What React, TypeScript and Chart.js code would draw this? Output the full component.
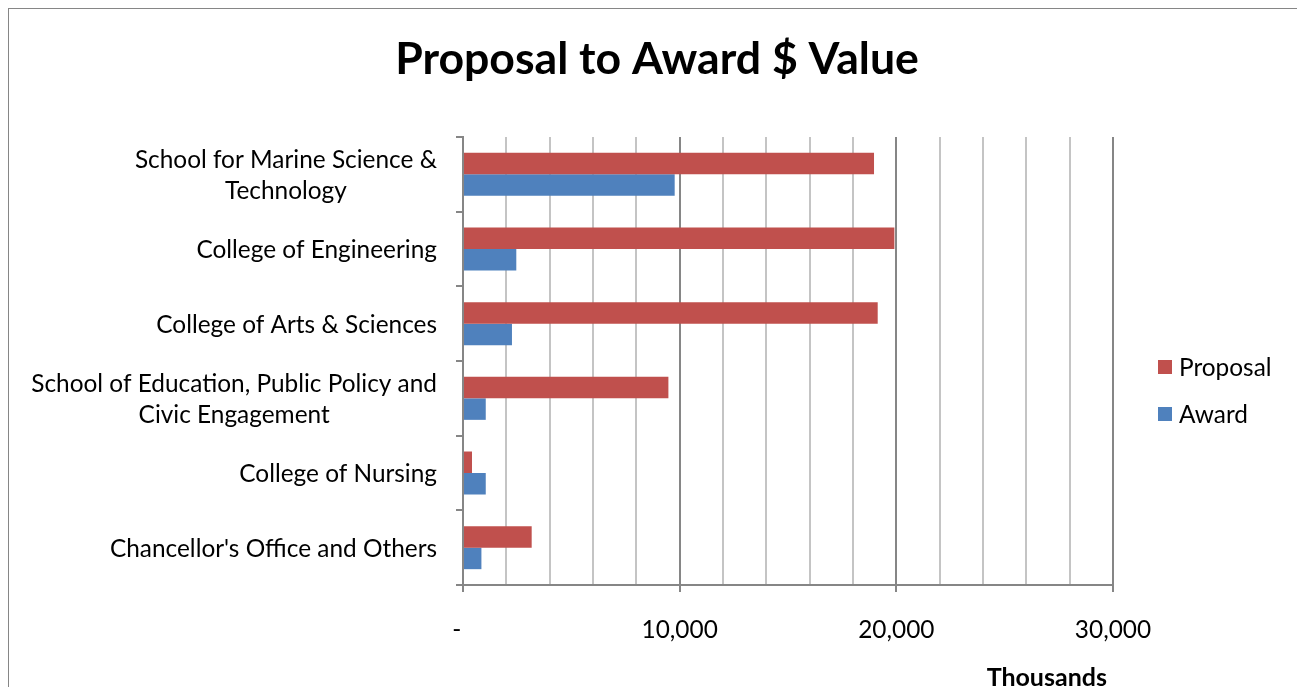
import React, { useEffect, useRef } from "react";
import { Chart, registerables } from "chart.js";

Chart.register(...registerables);

const categories: string[][] = [
  ["School for Marine Science &", "Technology"],
  ["College of Engineering"],
  ["College of Arts & Sciences"],
  ["School of Education, Public Policy and", "Civic Engagement"],
  ["College of Nursing"],
  ["Chancellor's Office and Others"],
];
const proposalValues = [18970, 19910, 19140, 9480, 415, 3170];
const awardValues = [9770, 2460, 2260, 1050, 1050, 850];
const seriesNames = ["Proposal", "Award"];
const seriesColors = ["#C0504D", "#4F81BD"];
const chartTitle = "Proposal to Award $ Value";
const axisTitle = "Thousands ";
const xMin = 0;
const xMax = 30000;
const xStep = 2000;
const xMajor = 10000;

const FONT = "Lato, 'Open Sans', sans-serif";
const LABEL_SIZE = 24.4;

export default function App() {
  const ref = useRef<HTMLCanvasElement | null>(null);

  useEffect(() => {
    document.documentElement.style.overflow = "hidden";
    document.body.style.overflow = "hidden";
    const canvas = ref.current;
    if (!canvas) return;

    const yLabelPlugin = {
      id: "yLabels",
      afterDraw(chart: any) {
        const ctx = chart.ctx;
        const ys = chart.scales.y;
        const area = chart.chartArea;
        ctx.save();
        ctx.font = `${LABEL_SIZE}px ${FONT}`;
        ctx.fillStyle = "#000";
        ctx.textAlign = "center";
        ctx.textBaseline = "middle";
        const lineH = 31;
        const rightEdge = area.left - 26;
        (chart.data.labels as string[][]).forEach((lines, i) => {
          const cy = ys.getPixelForValue(i) + 1;
          const maxW = Math.max(...lines.map((l) => ctx.measureText(l).width));
          const cx = rightEdge - maxW / 2;
          const y0 = cy - ((lines.length - 1) * lineH) / 2;
          lines.forEach((l, j) => ctx.fillText(l, cx, y0 + j * lineH));
        });
        ctx.restore();
      },
    };

    const legendPlugin = {
      id: "customLegend",
      afterDraw(chart: any) {
        const ctx = chart.ctx;
        const area = chart.chartArea;
        ctx.save();
        ctx.font = `${LABEL_SIZE}px ${FONT}`;
        ctx.textBaseline = "middle";
        ctx.textAlign = "left";
        const x = area.right + 45;
        const startY = 358;
        chart.data.datasets.forEach((ds: any, i: number) => {
          const y = startY + i * 47;
          ctx.fillStyle = ds.backgroundColor;
          ctx.fillRect(x, y - 7, 14, 14);
          ctx.fillStyle = "#000";
          ctx.fillText(ds.label, x + 21, y + 1);
        });
        ctx.restore();
      },
    };

    const chart = new Chart(canvas, {
      type: "bar",
      data: {
        labels: categories,
        datasets: [
          {
            label: seriesNames[0],
            data: proposalValues,
            backgroundColor: seriesColors[0],
            categoryPercentage: 0.576,
            barPercentage: 1,
          },
          {
            label: seriesNames[1],
            data: awardValues,
            backgroundColor: seriesColors[1],
            categoryPercentage: 0.576,
            barPercentage: 1,
          },
        ],
      },
      options: {
        indexAxis: "y",
        animation: false,
        responsive: false,
        maintainAspectRatio: false,
        layout: { padding: 0 },
        plugins: {
          legend: { display: false },
          tooltip: { enabled: false },
          title: {
            display: true,
            text: chartTitle,
            color: "#000",
            font: { family: FONT, size: 44.6, weight: "bold" },
            padding: { top: 24, bottom: 50.5 },
          },
        },
        scales: {
          y: {
            type: "category",
            afterFit: (s: any) => {
              s.width = 454;
            },
            ticks: { display: false },
            grid: {
              drawOnChartArea: false,
              drawTicks: true,
              tickLength: 7,
              color: "#868686",
              lineWidth: 2,
              offset: true,
            },
            border: { display: true, color: "#868686", width: 2 },
          },
          x: {
            type: "linear",
            min: xMin,
            max: xMax,
            afterFit: (s: any) => {
              s.height = 114;
              s.paddingRight = 192;
            },
            ticks: {
              stepSize: xStep,
              autoSkip: false,
              maxRotation: 0,
              padding: 23.6,
              color: "#000",
              font: { family: FONT, size: LABEL_SIZE },
              callback: (v: any) => {
                const n = Number(v);
                if (n % xMajor !== 0) return "";
                if (n === 0) return "-  ";
                return n.toLocaleString("en-US");
              },
            },
            grid: {
              drawTicks: true,
              tickLength: 7,
              color: (c: any) =>
                c.tick && c.tick.value % xMajor === 0 ? "#868686" : "#c4c4c4",
              tickColor: (c: any) =>
                c.tick && c.tick.value % xMajor === 0 ? "#868686" : "rgba(0,0,0,0)",
              lineWidth: 2,
            },
            border: { display: true, color: "#868686", width: 2 },
            title: {
              display: true,
              text: axisTitle,
              align: "end",
              color: "#000",
              font: { family: FONT, size: 25, weight: "bold" },
              padding: { top: 0, bottom: 6 },
            },
          },
        },
      } as any,
      plugins: [yLabelPlugin, legendPlugin],
    });

    return () => chart.destroy();
  }, []);

  return (
    <div
      style={{
        position: "relative",
        marginLeft: -1,
        marginTop: -1,
        width: 1296,
        height: 690,
        borderLeft: "2px solid #868686",
        borderTop: "2px solid #868686",
        background: "#fff",
      }}
    >
      <canvas ref={ref} width={1296} height={690} style={{ display: "block" }} />
    </div>
  );
}
